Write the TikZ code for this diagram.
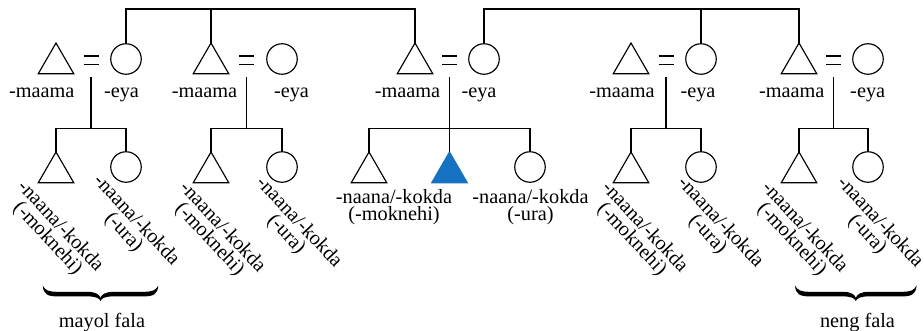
\documentclass[tikz,border=0pt]{standalone}
\usepackage{fontspec}
\setmainfont{Liberation Serif}
\usetikzlibrary{shapes.geometric}
\definecolor{egoblue}{RGB}{22,114,192}
\tikzset{
  kin/.style={line width=1.15pt},
  eqbar/.style={line width=1.05pt},
  male/.style={regular polygon, regular polygon sides=3, minimum size=41pt, inner sep=0pt, outer sep=0pt, draw, line width=1.15pt},
  female/.style={circle, minimum size=30.5pt, inner sep=0pt, outer sep=0pt, draw, line width=1.15pt},
  egonode/.style={male, fill=egoblue, draw=egoblue},
  lbl/.style={font=\fontsize{20.3pt}{17.5pt}\selectfont, inner sep=0pt, outer sep=0pt},
  multi/.style={lbl, align=center},
  slant/.style={multi, rotate=-47, anchor=north west},
  pics/cbrace/.style={code={
    \fill (-#1,-15.5) .. controls ({-#1+0.8},-6.5) and ({-#1+5},-4.6) .. ({-#1+15},-4.6)
      -- (-13,-4.6) .. controls (-5,-4.6) and (-1.2,-3) .. (0,0)
      .. controls (1.2,-3) and (5,-4.6) .. (13,-4.6)
      -- ({#1-15},-4.6) .. controls ({#1-5},-4.6) and ({#1-0.8},-6.5) .. (#1,-15.5)
      .. controls ({#1-2.5},-10.5) and ({#1-6},-9.2) .. ({#1-15},-9.2)
      -- (13,-9.2) .. controls (5,-9.2) and (1,-6.5) .. (0,-3.2)
      .. controls (-1,-6.5) and (-5,-9.2) .. (-13,-9.2)
      -- ({-#1+15},-9.2) .. controls ({-#1+6},-9.2) and ({-#1+2.5},-10.5) .. (-#1,-15.5) -- cycle;
  }}
}
\begin{document}
\begin{tikzpicture}[x=1pt,y=-1pt]
\useasboundingbox (0,0) rectangle (924,331);

% parents' generation
\node[male]   (t1) at (56,63.5) {};
\node[female] (w1) at (126,59) {};
\node[male]   (t2) at (211,63.5) {};
\node[female] (w2) at (282,59) {};
\node[male]   (t3) at (415,63.5) {};
\node[female] (w3) at (484,59) {};
\node[male]   (t4) at (631,63.5) {};
\node[female] (w4) at (701,59) {};
\node[male]   (t5) at (799,63.5) {};
\node[female] (w5) at (868,59) {};

% sibling bars on top
\coordinate (bar) at (0,9);
\draw[kin] (w1.north) |- (t3.corner 1 |- bar) -- (t3.corner 1);
\draw[kin] (t2.corner 1) -- (t2.corner 1 |- bar);
\draw[kin] (w3.north) |- (t5.corner 1 |- bar) -- (t5.corner 1);
\draw[kin] (w4.north) -- (w4.north |- bar);

% marriage signs and descent points
\foreach \n/\x in {1/91,2/246.5,3/449.5,4/666,5/833.5}{
  \coordinate (eq\n) at (\x,56);
  \coordinate (d\n) at (\x,76.7);
  \coordinate (s\n) at (\x,128.3);
  \draw[eqbar] ([xshift=-7.5pt]eq\n) -- ([xshift=7.5pt]eq\n);
  \draw[eqbar] ([xshift=-7.5pt,yshift=-8.3pt]eq\n) -- ([xshift=7.5pt,yshift=-8.3pt]eq\n);
}

% parents' labels
\node[lbl, anchor=base] (lt1) at (41.7,98) {-maama};
\node[lbl, anchor=base] (lw1) at (121.5,98) {-eya};
\node[lbl, anchor=base] (lt2) at (204.5,98) {-maama};
\node[lbl, anchor=base] (lw2) at (291.5,98) {-eya};
\node[lbl, anchor=base] (lt3) at (407.5,98) {-maama};
\node[lbl, anchor=base] (lw3) at (479,98) {-eya};
\node[lbl, anchor=base] (lt4) at (622,98) {-maama};
\node[lbl, anchor=base] (lw4) at (698,98) {-eya};
\node[lbl, anchor=base] (lt5) at (791.8,98) {-maama};
\node[lbl, anchor=base] (lw5) at (867.7,98) {-eya};

% children
\node[male]    (ct1) at (56,172.5) {};
\node[female]  (cc1) at (126,167) {};
\node[male]    (ct2) at (211,172.5) {};
\node[female]  (cc2) at (282,167) {};
\node[male]    (ct3) at (369,172.5) {};
\node[egonode] (ego) at (449.5,172.5) {};
\node[female]  (cc3) at (530,167) {};
\node[male]    (ct4) at (631,172.5) {};
\node[female]  (cc4) at (701,167) {};
\node[male]    (ct5) at (799,172.5) {};
\node[female]  (cc5) at (868,167) {};

% descent lines
\foreach \n in {1,2,4,5}{
  \draw[kin] (d\n) -- (s\n);
  \draw[kin] (ct\n.corner 1) -- (ct\n.corner 1 |- s\n) -- (cc\n.north |- s\n) -- (cc\n.north);
}
\draw[kin] (d3) -- (ego.corner 1);
\draw[kin] (ct3.corner 1) -- (ct3.corner 1 |- s3) -- (cc3.north |- s3) -- (cc3.north);

% children's labels
\node[slant] (lct1) at (27.3,177.9) {-naana/-kokda\\(-moknehi)};
\node[slant] (lcc1) at (103.3,171.9) {-naana/-kokda\\(-ura)};
\node[slant] (lct2) at (189.3,178.9) {-naana/-kokda\\(-moknehi)};
\node[slant] (lcc2) at (265.9,173.9) {-naana/-kokda\\(-ura)};
\node[multi, anchor=north] (lct3) at (394,189) {-naana/-kokda\\(-moknehi)};
\node[multi, anchor=north] (lcc3) at (530.5,189) {-naana/-kokda\\(-ura)};
\node[slant] (lct4) at (611.6,178.9) {-naana/-kokda\\(-moknehi)};
\node[slant] (lcc4) at (687.3,173.9) {-naana/-kokda\\(-ura)};
\node[slant] (lct5) at (771.6,178.9) {-naana/-kokda\\(-moknehi)};
\node[slant] (lcc5) at (847,173.9) {-naana/-kokda\\(-ura)};

% braces
\pic at (100.5,301) {cbrace=57.8};
\node[lbl, anchor=base] (mayol) at (102,327) {mayol fala};
\pic at (855.8,301) {cbrace=60.8};
\node[lbl, anchor=base] (neng) at (857.5,327) {neng fala};
\end{tikzpicture}
\end{document}
